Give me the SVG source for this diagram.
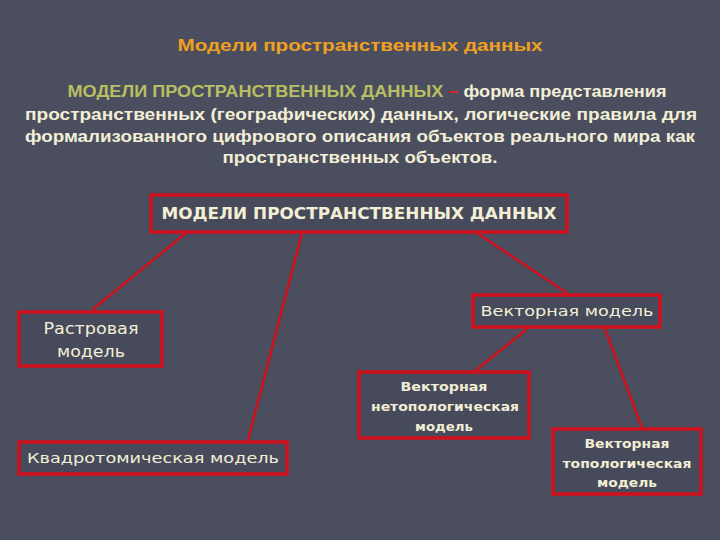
<svg xmlns="http://www.w3.org/2000/svg" width="720" height="540" viewBox="0 0 720 540">
<style>
.bg{fill:#4b4e5e}
.box{fill:#474a5a;stroke:#d0101c;stroke-width:3.5}
.lbl{font-family:"DejaVu Sans","Liberation Sans",sans-serif;fill:#f2efd6;text-anchor:middle;font-size:13px}
.para{font-family:"Liberation Sans",Arial,sans-serif;font-weight:bold;font-size:16px;fill:#f2efd6;text-anchor:middle}
.conn{stroke:#d0101c;stroke-width:2.5;fill:none}
.sm{font-weight:bold;font-size:13px}
</style>
<rect class="bg" x="0" y="0" width="720" height="540"/>
<text x="360" y="51" class="para" style="fill:#f0a020" textLength="365" lengthAdjust="spacingAndGlyphs">Модели пространственных данных</text>
<text x="367" y="97" class="para" textLength="599" lengthAdjust="spacingAndGlyphs"><tspan fill="#b7bf62">МОДЕЛИ ПРОСТРАНСТВЕННЫХ ДАННЫХ</tspan><tspan fill="#e02020"> – </tspan>форма представления</text>
<text x="361" y="120" class="para" textLength="672" lengthAdjust="spacingAndGlyphs">пространственных (географических) данных, логические правила для</text>
<text x="360" y="142" class="para" textLength="670" lengthAdjust="spacingAndGlyphs">формализованного цифрового описания объектов реального мира как</text>
<text x="360" y="163" class="para" textLength="275" lengthAdjust="spacingAndGlyphs">пространственных объектов.</text>
<g id="connectors">
<line class="conn" x1="186" y1="233" x2="92" y2="310"/>
<line class="conn" x1="302" y1="233" x2="248" y2="440"/>
<line class="conn" x1="477" y1="233" x2="567" y2="293"/>
<line class="conn" x1="527" y1="329" x2="475" y2="371"/>
<line class="conn" x1="605" y1="329" x2="642" y2="428"/>
</g>
<g id="root">
<rect class="box" x="151" y="195" width="416" height="37"/>
<text x="359" y="219" class="lbl" style="font-weight:bold;font-size:15px" textLength="395" lengthAdjust="spacingAndGlyphs">МОДЕЛИ ПРОСТРАНСТВЕННЫХ ДАННЫХ</text>
</g>
<g id="raster">
<rect class="box" x="19" y="312" width="143" height="54"/>
<text x="91" y="334" class="lbl" style="font-size:15px" textLength="95" lengthAdjust="spacingAndGlyphs">Растровая</text>
<text x="91" y="357" class="lbl" style="font-size:15px" textLength="68" lengthAdjust="spacingAndGlyphs">модель</text>
</g>
<g id="quad">
<rect class="box" x="19" y="442" width="268" height="32"/>
<text x="153" y="463" class="lbl" style="font-size:14px" textLength="252" lengthAdjust="spacingAndGlyphs">Квадротомическая модель</text>
</g>
<g id="vector">
<rect class="box" x="473" y="295" width="187" height="32"/>
<text x="567" y="316" class="lbl" style="font-size:14px" textLength="173" lengthAdjust="spacingAndGlyphs">Векторная модель</text>
</g>
<g id="nontopo">
<rect class="box" x="359" y="372" width="170" height="66"/>
<text x="444" y="391" class="lbl sm" textLength="87" lengthAdjust="spacingAndGlyphs">Векторная</text>
<text x="445" y="411" class="lbl sm" textLength="148" lengthAdjust="spacingAndGlyphs">нетопологическая</text>
<text x="444" y="431" class="lbl sm" textLength="58" lengthAdjust="spacingAndGlyphs">модель</text>
</g>
<g id="topo">
<rect class="box" x="553" y="429" width="148" height="65"/>
<text x="627" y="448" class="lbl sm" textLength="85" lengthAdjust="spacingAndGlyphs">Векторная</text>
<text x="627" y="468" class="lbl sm" textLength="129" lengthAdjust="spacingAndGlyphs">топологическая</text>
<text x="627" y="487" class="lbl sm" textLength="60" lengthAdjust="spacingAndGlyphs">модель</text>
</g>
</svg>
